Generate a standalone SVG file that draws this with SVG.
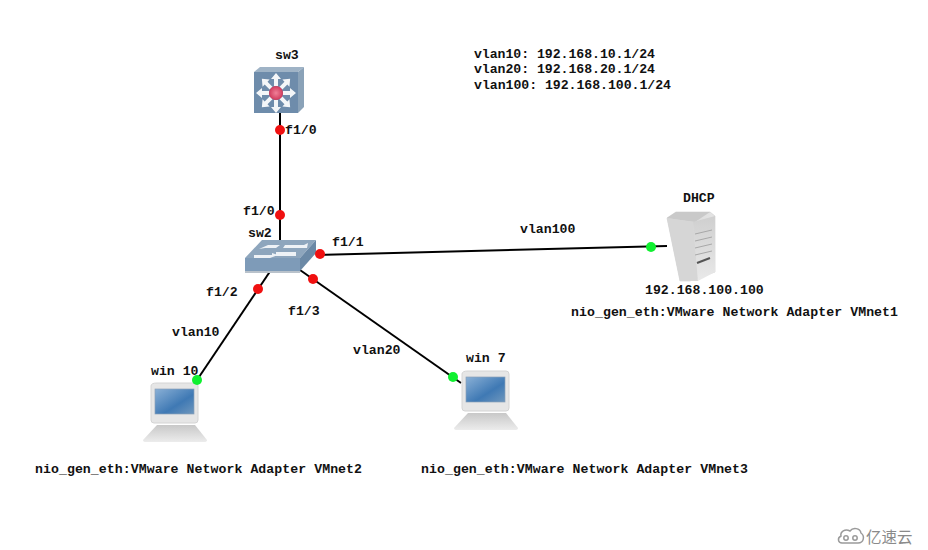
<svg xmlns="http://www.w3.org/2000/svg" width="928" height="550" viewBox="0 0 928 550">
<style>
text{font-family:"Liberation Mono","DejaVu Sans Mono",monospace;font-weight:700;font-size:13.2px;fill:#111}
.l{stroke:#000;stroke-width:2;fill:none}
.r{fill:#f01010}.g{fill:#10f030}
.wm{font-family:"Noto Sans CJK SC",sans-serif;font-weight:400;font-size:15.5px;fill:#8a8a8a}
.arr{fill:#f4f6f8}
</style>
<defs>
<linearGradient id="scr" x1="0" y1="0" x2="1" y2="1"><stop offset="0" stop-color="#8ab0d6"/><stop offset=".6" stop-color="#3f79b4"/><stop offset="1" stop-color="#6f97bd"/></linearGradient>
<linearGradient id="kb" x1="0" y1="0" x2="0" y2="1"><stop offset="0" stop-color="#c8c8c8"/><stop offset="1" stop-color="#ececec"/></linearGradient>
<linearGradient id="srv" x1="0" y1="0" x2="1" y2="0"><stop offset="0" stop-color="#d2d2d2"/><stop offset="1" stop-color="#e4e4e4"/></linearGradient>
<linearGradient id="srf" x1="0" y1="0" x2="0" y2="1"><stop offset="0" stop-color="#cfcfcf"/><stop offset="1" stop-color="#e9e9e9"/></linearGradient>
<radialGradient id="hub"><stop offset="0" stop-color="#f08098"/><stop offset="1" stop-color="#d03a5c"/></radialGradient>
<path id="ar" class="arr" d="M-2 -7H2V-14H5L0 -20L-5 -14H-2Z"/>
<g id="pc">
<path d="M7 0H45Q48 0 48 3V37Q48 40 45 40H4Q1 40 1 37V3Q1 0 7 0Z" fill="#e6e6e6" stroke="#d4d4d4"/>
<rect x="5" y="6" width="39" height="25" fill="url(#scr)" stroke="#8aa0b8" stroke-width=".7"/>
<path d="M7 42H45L57 57Q57 59 54 59H-4Q-7 59 -7 57Z" fill="url(#kb)"/>
</g>
</defs>
<rect width="928" height="550" fill="#fff"/>
<g id="connectors">
<path class="l" d="M280 113V240"/>
<path class="l" d="M316 255L667 246"/>
<path class="l" d="M271 270L197 380"/>
<path class="l" d="M300 270L461 383"/>
</g>
<g id="sw3">
<path d="M254 72L260 67H304L298 72Z" fill="#9fb3c6"/>
<path d="M298 72L304 67V107L298 113Z" fill="#8aa2b8"/>
<path d="M254 72H298V113H254Z" fill="#6e8cab"/>
<use href="#ar" transform="translate(276 93)"/>
<use href="#ar" transform="translate(276 93) rotate(45)"/>
<use href="#ar" transform="translate(276 93) rotate(90)"/>
<use href="#ar" transform="translate(276 93) rotate(135)"/>
<use href="#ar" transform="translate(276 93) rotate(180)"/>
<use href="#ar" transform="translate(276 93) rotate(225)"/>
<use href="#ar" transform="translate(276 93) rotate(270)"/>
<use href="#ar" transform="translate(276 93) rotate(315)"/>
<circle cx="276" cy="93" r="7" fill="url(#hub)"/>
<text x="275" y="59">sw3</text>
</g>
<g id="sw2">
<path d="M245 258L262 240H316L300 258Z" fill="#8ea6bd"/>
<path d="M245 258H300V271H245Z" fill="#7e9bb8"/>
<path d="M300 258L316 240V253L300 271Z" fill="#6b89a6"/>
<path d="M245 271H300V273H245Z" fill="#b9c2cb"/>
<path d="M259 249L268 245H280L276 248H265ZM285 245H304L308 243L307 248L298 248H283ZM254 255H272V253L278 255L270 258H254ZM276 252H296V256H276Z" fill="#eef2f6"/>
<text x="248" y="237">sw2</text>
</g>
<g id="dhcp">
<path d="M667 218L676 212H710L715 216V272L690 281H680Z" fill="url(#srv)" stroke="#cfcfcf" stroke-width=".6"/>
<path d="M667 218L676 212H710L695 222Z" fill="#c9c9c9"/>
<path d="M667 218L693 222L698 281H680Z" fill="#d6d6d6"/>
<path d="M693 222L715 216V272L698 281Z" fill="url(#srf)"/>
<path d="M695 234L712 230M695 241L712 237M695 248L712 244M695 255L712 251" stroke="#a8a8a8" stroke-width="1"/>
<path d="M697 263L710 258" stroke="#555" stroke-width="2"/>
<text x="683" y="202">DHCP</text>
<text x="645" y="294">192.168.100.100</text>
<text x="571" y="316" textLength="327">nio_gen_eth:VMware Network Adapter VMnet1</text>
</g>
<g id="win10">
<use href="#pc" x="150" y="383"/>
<text x="151" y="375">win 10</text>
<text x="35" y="473" textLength="327">nio_gen_eth:VMware Network Adapter VMnet2</text>
</g>
<g id="win7">
<use href="#pc" x="461" y="371"/>
<text x="466" y="362">win 7</text>
<text x="421" y="473" textLength="327">nio_gen_eth:VMware Network Adapter VMnet3</text>
</g>
<g id="dots">
<circle class="r" cx="280" cy="130" r="5"/>
<circle class="r" cx="280" cy="215" r="5"/>
<circle class="r" cx="320" cy="254" r="5"/>
<circle class="r" cx="313" cy="279" r="5"/>
<circle class="r" cx="258" cy="289" r="5"/>
<circle class="g" cx="651" cy="247" r="5"/>
<circle class="g" cx="197" cy="380" r="5"/>
<circle class="g" cx="453" cy="377" r="5"/>
</g>
<g id="labels">
<text x="285" y="134">f1/0</text>
<text x="243" y="215">f1/0</text>
<text x="332" y="246">f1/1</text>
<text x="206" y="296">f1/2</text>
<text x="288" y="315">f1/3</text>
<text x="520" y="233">vlan100</text>
<text x="172" y="336">vlan10</text>
<text x="353" y="354">vlan20</text>
<text x="474" y="58" textLength="181">vlan10: 192.168.10.1/24</text>
<text x="474" y="73" textLength="181">vlan20: 192.168.20.1/24</text>
<text x="474" y="89" textLength="197">vlan100: 192.168.100.1/24</text>
</g>
<g id="watermark">
<g fill="none" stroke="#9a9a9a" stroke-width="1.5">
<path d="M842 543H858C864 543 865 536 861 533C860 528 853 527 850 531C845 528 840 532 841 536C837 538 838 543 842 543Z"/>
<circle cx="846" cy="538" r="2.2"/><circle cx="855" cy="538" r="2.2"/>
</g>
<text class="wm" x="866" y="543">亿速云</text>
</g>
</svg>
